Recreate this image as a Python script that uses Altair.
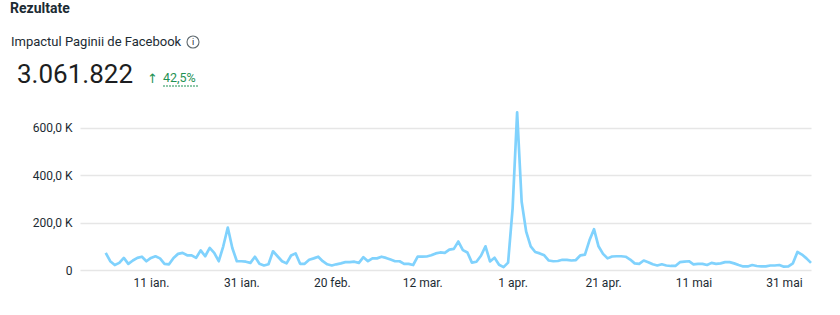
import altair as alt
import pandas as pd

# Daily values (thousands), 1 Jan - 6 Jun
values_k = [
    72, 37, 21, 30, 51, 26, 40, 51, 56, 37,
    51, 58, 49, 26, 24, 51, 68, 72, 62, 62,
    51, 83, 58, 93, 72, 37, 100, 179, 93, 37,
    37, 35, 30, 56, 26, 19, 24, 79, 58,
    37, 28, 61, 70, 26, 26, 43, 49, 56, 37,
    24, 19, 24, 28, 33, 33, 35, 30, 54, 37,
    49, 49, 56, 51, 44, 37, 37, 26, 26, 21,
    56, 56, 57, 62, 70, 74, 72, 86, 89,
    120, 84, 74, 31, 35, 60, 100, 36, 52, 22,
    12, 31, 260, 665, 288, 162, 100, 76, 70, 62,
    40, 37, 38, 43, 43, 40, 42, 62, 65, 125,
    172, 100, 68, 49, 57, 58, 58, 56, 44, 28,
    26, 40, 33, 24, 19, 24, 19, 17, 17, 33,
    35, 37, 24, 26, 26, 21, 30, 26, 28, 33,
    33, 28, 21, 15, 15, 21, 17, 15, 15, 19,
    19, 21, 14, 15, 28, 76, 65, 49, 30,
]
start_date = "2025-01-01"
tick_dates = ["2025-01-11", "2025-01-31", "2025-02-20", "2025-03-12",
              "2025-04-01", "2025-04-21", "2025-05-11", "2025-05-31"]
month_labels = ["ian.", "feb.", "mar.", "apr.", "mai", "iun."]
y_ticks = [0, 200000, 400000, 600000]

title_text = ["Rezultate"]
subtitle_text = ["Impactul Paginii de Facebook"]
total_text = ["3.061.822"]
arrow_text = ["↑"]
change_text = ["42,5%"]

dates = pd.date_range(start_date, periods=len(values_k), freq="D").strftime("%Y-%m-%d")
df = pd.DataFrame({"date": list(dates), "value": [v * 1000 for v in values_k]})


def ms(d):
    return int(pd.Timestamp(d, tz="UTC").value // 10**6)


day_ms = 86400000
x_start = ms(start_date) - int(5.69 * day_ms)
x_end = ms(dates[-1])
tick_ms = [ms(d) for d in tick_dates]

label_expr = ("utcdate(datum.value) + ' ' + ['" + "','".join(month_labels)
              + "'][utcmonth(datum.value)]")

FONT = "Roboto"
DARK = "#1c2b33"
GREEN = "#1f9254"

line = alt.Chart(df).mark_line(
    color="#80d2fd", strokeWidth=2.7, strokeJoin="round", interpolate="linear"
).encode(
    x=alt.X("date:T",
            scale=alt.Scale(type="utc", domain=[x_start, x_end]),
            axis=alt.Axis(values=tick_ms, labelExpr=label_expr, title=None,
                          grid=False, domain=False, ticks=False, labelPadding=7,
                          labelFontSize=12, labelColor=DARK, labelFont=FONT)),
    y=alt.Y("value:Q",
            scale=alt.Scale(domain=[0, 700000], nice=False),
            axis=alt.Axis(values=y_ticks,
                          labelExpr="datum.value == 0 ? '0' : replace(format(datum.value/1000, '.1f'), '.', ',') + ' K'",
                          title=None, domain=False, ticks=False, labelPadding=8,
                          labelFontSize=12, labelColor=DARK, labelFont=FONT,
                          gridColor="#e6e6e6", gridWidth=1.5)),
)


def text_layer(vals, x, y, size, weight="normal", color=DARK, font=FONT):
    return alt.Chart(pd.DataFrame({"t": vals})).mark_text(
        align="left", baseline="alphabetic", fontSize=size, fontWeight=weight,
        color=color, font=font
    ).encode(x=alt.value(x), y=alt.value(y), text="t:N")


t1 = text_layer(title_text, -70, -91, 14, "bold")
t2 = text_layer(subtitle_text, -69, -58, 13, "normal")
t3 = text_layer(total_text, -63, -21, 26, "normal", "#1c1e21")
t_arrow = text_layer(arrow_text, 67, -21, 13, "normal", GREEN, "DejaVu Sans")
t4 = text_layer(change_text, 83, -22, 12.5, "normal", GREEN)

underline = alt.Chart(pd.DataFrame({"t": change_text})).mark_rule(
    color=GREEN, strokeWidth=1, strokeDash=[2, 1]
).encode(x=alt.value(83), x2=alt.value(118), y=alt.value(-18))

icon = alt.Chart(pd.DataFrame({"t": ["i"]})).mark_point(
    shape="circle", filled=False, size=144, stroke=DARK, strokeWidth=1.1
).encode(x=alt.value(113), y=alt.value(-62))
icon_i = alt.Chart(pd.DataFrame({"t": ["i"]})).mark_text(
    fontSize=9, color=DARK, font=FONT, baseline="middle", align="center"
).encode(x=alt.value(113), y=alt.value(-62), text="t:N")

chart = alt.layer(line, t1, t2, t3, t_arrow, t4, underline, icon, icon_i).properties(
    width=731, height=166,
    background="white",
    autosize=alt.AutoSizeParams(type="none"),
    padding={"left": 80, "top": 104, "right": 29, "bottom": 45},
).configure_view(stroke=None)

chart.save("out.html", embed_options={"renderer": "svg", "actions": False})
